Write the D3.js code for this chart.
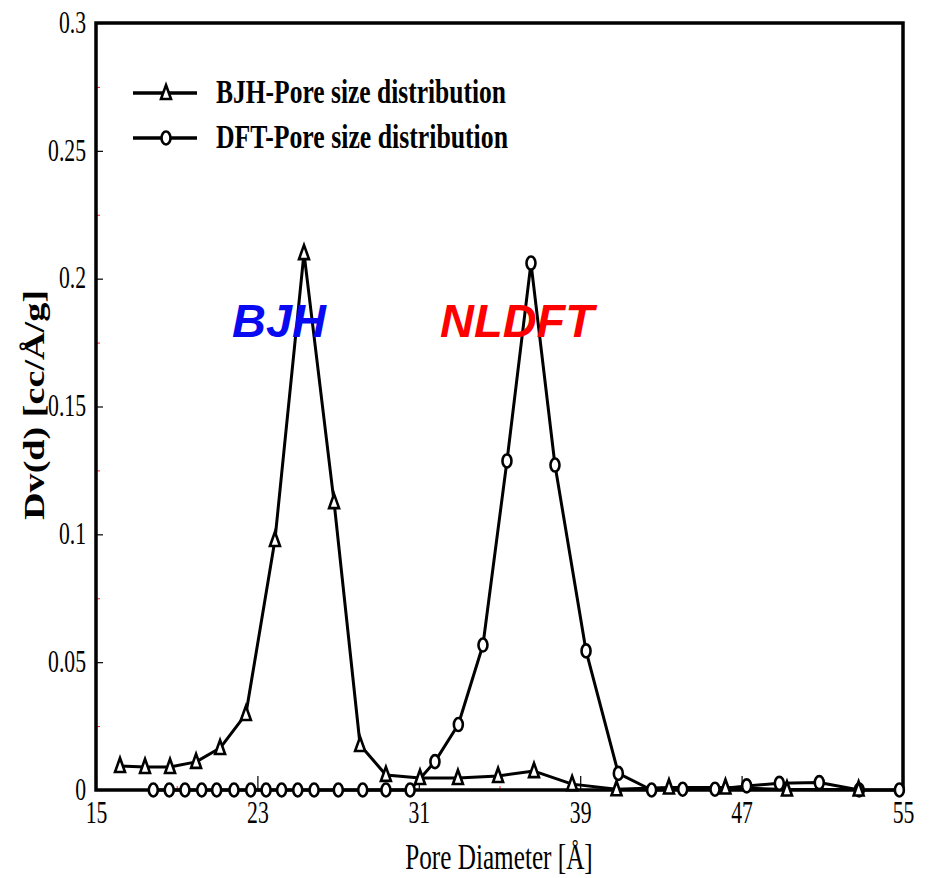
<!DOCTYPE html>
<html lang="en">
<head>
    <meta charset="UTF-8">
    <title>Pore size distribution</title>
    <script src="https://d3js.org/d3.v7.min.js"></script>
    <style>
        body { margin: 0; background: #fff; }
    </style>
</head>
<body>
    <script>
        // BJH series (triangles)
        var bjhX = [16.19, 17.43, 18.67, 19.96, 21.15, 22.43, 23.87, 25.31, 26.80, 28.09, 29.37,
            31.06, 32.94, 34.93, 36.71, 38.60, 40.80, 43.40, 46.20, 49.25, 52.80];
        var bjhY = [0.0094, 0.0090, 0.0090, 0.0110, 0.0164, 0.0297, 0.0978, 0.2100, 0.1126, 0.0176, 0.0059,
            0.0047, 0.0047, 0.0055, 0.0074, 0.0023, 0.0003, 0.0010, 0.0010, 0.0002, 0.0002];

        // DFT series (circles)
        var dftX = [17.84, 18.63, 19.41, 20.24, 20.98, 21.84, 22.67, 23.43, 24.20, 25.00, 25.81, 27.01,
            28.22, 29.37, 30.57, 31.80, 32.96, 34.18, 35.37, 36.56, 37.75, 39.29, 40.89, 42.54, 44.08,
            45.68, 47.25, 48.87, 50.85, 52.83, 54.82];
        var dftY = [0, 0, 0, 0, 0, 0, 0, 0, 0, 0, 0, 0, 0, 0, 0, 0.0111, 0.0256, 0.0567, 0.1287, 0.2061,
            0.1271, 0.0544, 0.0065, 0.0000, 0.0003, 0.0003, 0.0016, 0.0026, 0.0029, 0.0000, 0.0000];

        var xTicks = [15, 23, 31, 39, 47, 55];
        var xMinor = [19, 27, 35, 43, 51];
        var yTicks = [0, 0.05, 0.1, 0.15, 0.2, 0.25, 0.3];
        var yMinor = [0.025, 0.075, 0.125, 0.175, 0.225, 0.275];
        var legendNames = ["BJH-Pore size distribution", "DFT-Pore size distribution"];

        var w = 930;
        var h = 878;
        var plot = { left: 96, right: 903, top: 23, bottom: 790 };
        var squeeze = 0.7;   // the original text looks narrow

        var svg = d3.select("body")
            .append("svg")
            .attr("width", w)
            .attr("height", h);

        var x = d3.scaleLinear().domain([15, 55]).range([plot.left, plot.right]);
        var y = d3.scaleLinear().domain([0, 0.3]).range([plot.bottom, plot.top]);

        // minor red ticks
        svg.append("g")
            .attr("transform", "translate(" + plot.left + ",0)")
            .call(d3.axisLeft(y).tickValues(yMinor).tickSize(-4).tickFormat(""))
            .call(g => g.select(".domain").remove())
            .selectAll("line").attr("stroke", "#ff2020").attr("stroke-width", 1);
        svg.append("g")
            .attr("transform", "translate(0," + plot.bottom + ")")
            .call(d3.axisBottom(x).tickValues(xMinor).tickSize(-4).tickFormat(""))
            .call(g => g.select(".domain").remove())
            .selectAll("line").attr("stroke", "#ff2020").attr("stroke-width", 1);

        // major axes
        var yAxis = svg.append("g")
            .attr("transform", "translate(" + plot.left + ",0)")
            .call(d3.axisLeft(y).tickValues(yTicks).tickSizeInner(-7).tickSizeOuter(0)
                .tickFormat(d => d === 0 ? "0" : String(+d.toFixed(2))));
        yAxis.select(".domain").remove();
        yAxis.selectAll("line").attr("stroke", "#000").attr("stroke-width", 1.2);
        yAxis.selectAll("text")
            .attr("x", -10 / squeeze)
            .attr("dy", "0.3em")
            .attr("transform", "scale(" + squeeze + ",1)")
            .attr("font-family", "'Liberation Serif', 'Times New Roman', serif")
            .attr("font-size", 31)
            .attr("fill", "#000");

        var xAxis = svg.append("g")
            .attr("transform", "translate(0," + plot.bottom + ")")
            .call(d3.axisBottom(x).tickValues(xTicks).tickSizeInner(-14).tickSizeOuter(0));
        xAxis.select(".domain").remove();
        xAxis.selectAll("line").attr("stroke", "#000").attr("stroke-width", 1.2);
        xAxis.selectAll("text")
            .attr("y", 33)
            .attr("dy", 0)
            .attr("transform", "scale(" + squeeze + ",1)")
            .attr("font-family", "'Liberation Serif', 'Times New Roman', serif")
            .attr("font-size", 31)
            .attr("fill", "#000");

        // frame
        svg.append("rect")
            .attr("x", plot.left)
            .attr("y", plot.top)
            .attr("width", plot.right - plot.left)
            .attr("height", plot.bottom - plot.top)
            .attr("fill", "none")
            .attr("stroke", "#000")
            .attr("stroke-width", 3.5);

        // axis titles
        svg.append("text")
            .attr("transform", "translate(499,869) scale(" + squeeze + ",1)")
            .attr("text-anchor", "middle")
            .attr("font-family", "'Liberation Serif', 'Times New Roman', serif")
            .attr("font-size", 36)
            .text("Pore Diameter [Å]");

        svg.append("text")
            .attr("transform", "translate(44,405) scale(0.72,1) rotate(-90)")
            .attr("text-anchor", "middle")
            .attr("font-family", "'Liberation Serif', 'Times New Roman', serif")
            .attr("font-weight", "bold")
            .attr("font-size", 40)
            .attr("textLength", 230)
            .attr("lengthAdjust", "spacingAndGlyphs")
            .text("Dv(d)  [cc/Å/g]");

        // series
        var bjh = bjhX.map((d, i) => [d, bjhY[i]]);
        var dft = dftX.map((d, i) => [d, dftY[i]]);

        var line = d3.line()
            .x(d => x(d[0]))
            .y(d => y(d[1]));

        svg.append("path").datum(dft)
            .attr("d", line)
            .attr("fill", "none")
            .attr("stroke", "#000")
            .attr("stroke-width", 3)
            .attr("stroke-linejoin", "round");
        svg.append("path").datum(bjh)
            .attr("d", line)
            .attr("fill", "none")
            .attr("stroke", "#000")
            .attr("stroke-width", 3)
            .attr("stroke-linejoin", "round");

        var triPath = "M0,-8L5,6L-5,6Z";

        function drawCircle(g, cx, cy) {
            g.append("ellipse")
                .attr("cx", cx)
                .attr("cy", cy)
                .attr("rx", 4.5)
                .attr("ry", 6.5)
                .attr("fill", "#fff")
                .attr("stroke", "#000")
                .attr("stroke-width", 2.6);
        }
        function drawTri(g, cx, cy) {
            g.append("path")
                .attr("d", triPath)
                .attr("transform", "translate(" + cx + "," + cy + ")")
                .attr("fill", "#fff")
                .attr("stroke", "#000")
                .attr("stroke-width", 2.6)
                .attr("stroke-linejoin", "miter");
        }

        var marks = svg.append("g");
        dft.forEach(d => drawCircle(marks, x(d[0]), y(d[1])));
        bjh.forEach(d => drawTri(marks, x(d[0]), y(d[1])));

        // legend
        var legend = svg.append("g");
        var rows = [93, 138];
        rows.forEach(function(ly, i) {
            legend.append("line")
                .attr("x1", 133).attr("x2", 197)
                .attr("y1", ly).attr("y2", ly)
                .attr("stroke", "#000")
                .attr("stroke-width", 3.5);
            if (i === 0) drawTri(legend, 166, ly);
            else drawCircle(legend, 166, ly);
            legend.append("text")
                .attr("x", 216)
                .attr("y", ly + 10)
                .attr("font-family", "'Liberation Serif', 'Times New Roman', serif")
                .attr("font-weight", "bold")
                .attr("font-size", 33)
                .attr("textLength", i === 0 ? 290 : 292)
                .attr("lengthAdjust", "spacingAndGlyphs")
                .text(legendNames[i]);
        });

        // annotations
        svg.append("text")
            .attr("x", 232)
            .attr("y", 337)
            .attr("font-family", "'Liberation Sans', Arial, sans-serif")
            .attr("font-weight", "bold")
            .attr("font-style", "italic")
            .attr("font-size", 47)
            .attr("fill", "#0a0af0")
            .text("BJH");
        svg.append("text")
            .attr("x", 440)
            .attr("y", 337)
            .attr("font-family", "'Liberation Sans', Arial, sans-serif")
            .attr("font-weight", "bold")
            .attr("font-style", "italic")
            .attr("font-size", 47)
            .attr("fill", "#ff0000")
            .text("NLDFT");
    </script>
</body>
</html>
